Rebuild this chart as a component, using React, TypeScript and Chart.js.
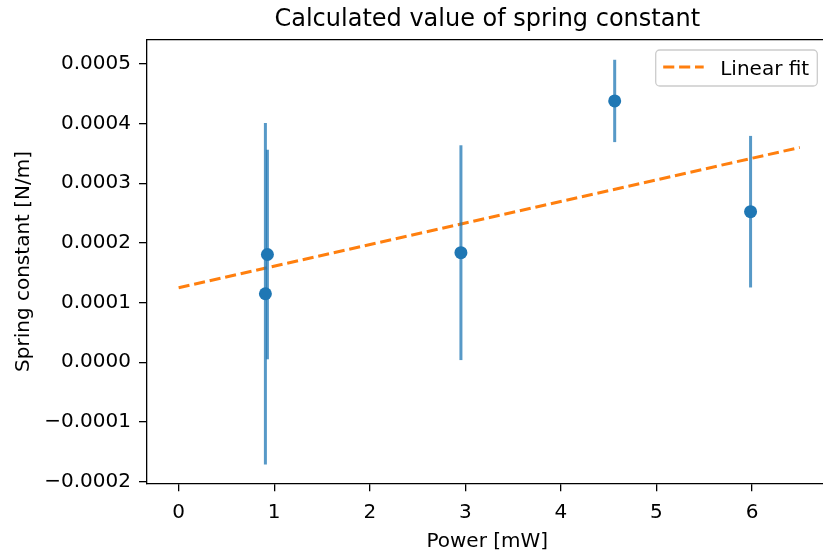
import React, { useEffect, useRef } from "react";
import { Chart, registerables } from "chart.js";

Chart.register(...registerables);

// ---- data ----
const pointX = [0.908, 0.929, 2.954, 4.563, 5.985];
const pointY = [0.0001149, 0.0001806, 0.0001837, 0.000438, 0.0002524];
const pointErr = [0.000286, 0.0001756, 0.00018, 0.000069, 0.000127];
const fitX = [0, 6.5];
const fitY = [0.000125, 0.00036];
const xTicks = [0, 1, 2, 3, 4, 5, 6];
const yTicks = [-0.0002, -0.0001, 0, 0.0001, 0.0002, 0.0003, 0.0004, 0.0005];
const titleText = "Calculated value of spring constant";
const xLabel = "Power [mW]";
const yLabel = "Spring constant [N/m]";
const fitLabel = "Linear fit";

const W = 840;
const H = 553;
const FONT = "'DejaVu Sans', sans-serif";
const BLUE = "#1f77b4";
const ORANGE = "#ff7f0e";
const DASH = [11.1, 4.8];

function fmtY(v: number): string {
  if (Math.abs(v) < 1e-12) return "0.0000";
  return (v < 0 ? "\u2212" : "") + Math.abs(v).toFixed(4);
}

const decorPlugin = {
  id: "decor",
  beforeDatasetDraw(chart: any, args: any) {
    if (args.index !== 0) return;
    const ctx = chart.ctx;
    const xs = chart.scales.x;
    const ys = chart.scales.y;
    ctx.save();
    ctx.strokeStyle = "rgba(31,119,180,0.75)";
    ctx.lineWidth = 3;
    ctx.lineCap = "butt";
    for (let i = 0; i < pointX.length; i++) {
      const px = xs.getPixelForValue(pointX[i]);
      const top = ys.getPixelForValue(pointY[i] + pointErr[i]);
      const bot = ys.getPixelForValue(pointY[i] - pointErr[i]);
      ctx.beginPath();
      ctx.moveTo(px, top);
      ctx.lineTo(px, bot);
      ctx.stroke();
    }
    ctx.restore();
  },
  afterDraw(chart: any) {
    const ctx = chart.ctx;
    const a = chart.chartArea;
    ctx.save();
    // top spine (right spine lies outside the visible page)
    ctx.strokeStyle = "#000";
    ctx.lineWidth = 1.3;
    ctx.beginPath();
    ctx.moveTo(a.left, a.top);
    ctx.lineTo(a.right, a.top);
    ctx.stroke();

    // title
    ctx.fillStyle = "#000";
    ctx.font = `24px ${FONT}`;
    ctx.textAlign = "center";
    ctx.textBaseline = "alphabetic";
    ctx.fillText(titleText, (a.left + a.right) / 2, 26);

    // x label
    ctx.font = `20px ${FONT}`;
    ctx.fillText(xLabel, (a.left + a.right) / 2, 547);

    // y label
    ctx.save();
    ctx.translate(29, (a.top + a.bottom) / 2);
    ctx.rotate(-Math.PI / 2);
    ctx.fillText(yLabel, 0, 0);
    ctx.restore();

    // legend
    const lx = 655.7;
    const ly = 50;
    const lw = 161.6;
    const lh = 36;
    const r = 4;
    ctx.beginPath();
    ctx.moveTo(lx + r, ly);
    ctx.lineTo(lx + lw - r, ly);
    ctx.arcTo(lx + lw, ly, lx + lw, ly + r, r);
    ctx.lineTo(lx + lw, ly + lh - r);
    ctx.arcTo(lx + lw, ly + lh, lx + lw - r, ly + lh, r);
    ctx.lineTo(lx + r, ly + lh);
    ctx.arcTo(lx, ly + lh, lx, ly + lh - r, r);
    ctx.lineTo(lx, ly + r);
    ctx.arcTo(lx, ly, lx + r, ly, r);
    ctx.closePath();
    ctx.fillStyle = "rgba(255,255,255,0.8)";
    ctx.fill();
    ctx.strokeStyle = "#cccccc";
    ctx.lineWidth = 1.3;
    ctx.stroke();

    ctx.beginPath();
    ctx.setLineDash(DASH);
    ctx.strokeStyle = ORANGE;
    ctx.lineWidth = 3;
    ctx.moveTo(lx + 7.5, ly + 17);
    ctx.lineTo(lx + 48, ly + 17);
    ctx.stroke();
    ctx.setLineDash([]);

    ctx.fillStyle = "#000";
    ctx.font = `20px ${FONT}`;
    ctx.textAlign = "left";
    ctx.textBaseline = "alphabetic";
    ctx.fillText(fitLabel, lx + 64.5, ly + 25);
    ctx.restore();
  },
};

export default function App() {
  const ref = useRef<HTMLCanvasElement | null>(null);

  useEffect(() => {
    if (!ref.current) return;
    const chart = new Chart(ref.current, {
      type: "scatter",
      data: {
        datasets: [
          {
            type: "scatter",
            label: "data",
            data: pointX.map((x, i) => ({ x, y: pointY[i] })),
            backgroundColor: BLUE,
            borderColor: BLUE,
            pointRadius: 6.5,
            pointHoverRadius: 6.5,
            borderWidth: 0,
            order: 0,
          },
          {
            type: "line",
            label: fitLabel,
            data: fitX.map((x, i) => ({ x, y: fitY[i] })),
            borderColor: ORANGE,
            borderWidth: 3,
            borderDash: DASH,
            pointRadius: 0,
            fill: false,
            tension: 0,
            order: 1,
          } as any,
        ],
      },
      options: {
        responsive: false,
        animation: false,
        events: [],
        layout: { padding: { top: 39.6, right: W - 827.5, left: 0, bottom: 0 } },
        plugins: {
          legend: { display: false },
          title: { display: false },
          tooltip: { enabled: false },
        },
        scales: {
          x: {
            type: "linear",
            min: -0.331,
            max: 6.79,
            afterBuildTicks: (s: any) => {
              s.ticks = xTicks.map((v) => ({ value: v }));
            },
            afterFit: (s: any) => {
              s.height = H - 483.3;
            },
            grid: {
              drawOnChartArea: false,
              drawTicks: true,
              tickLength: 8,
              color: "#000",
              lineWidth: 1.3,
            },
            border: { display: true, color: "#000", width: 1.3 },
            ticks: {
              color: "#000",
              font: { family: FONT, size: 20 },
              padding: 9,
              maxRotation: 0,
              autoSkip: false,
              callback: (v: any) => String(v),
            },
          },
          y: {
            type: "linear",
            min: -0.0002028,
            max: 0.0005408,
            afterBuildTicks: (s: any) => {
              s.ticks = yTicks.map((v) => ({ value: v }));
            },
            afterFit: (s: any) => {
              s.width = 147;
            },
            grid: {
              drawOnChartArea: false,
              drawTicks: true,
              tickLength: 8,
              color: "#000",
              lineWidth: 1.3,
            },
            border: { display: true, color: "#000", width: 1.3 },
            ticks: {
              color: "#000",
              font: { family: FONT, size: 20 },
              padding: 8,
              autoSkip: false,
              callback: (v: any) => fmtY(Number(v)),
            },
          },
        },
      },
      plugins: [decorPlugin],
    });
    return () => chart.destroy();
  }, []);

  return (
    <div
      style={{
        position: "absolute",
        left: 0,
        top: 0,
        width: 823,
        height: H,
        overflow: "hidden",
        background: "#fff",
      }}
    >
      <canvas ref={ref} width={W} height={H} style={{ width: W, height: H, display: "block" }} />
    </div>
  );
}
